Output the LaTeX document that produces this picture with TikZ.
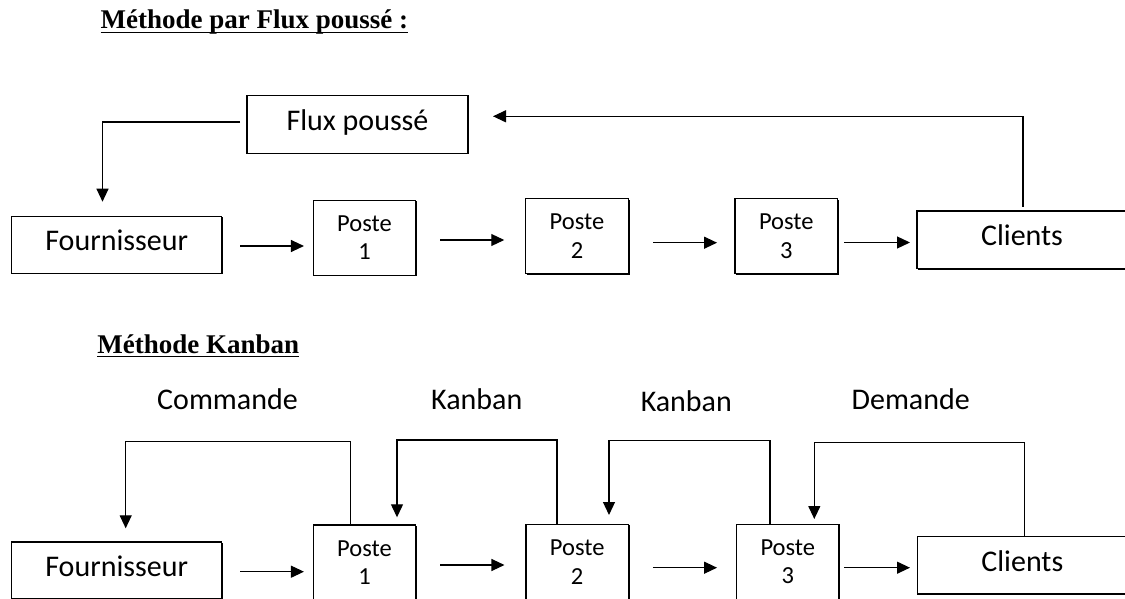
\documentclass[tikz,border=0pt]{standalone}
\usepackage{fontspec}
\setmainfont{Liberation Serif}
\newfontfamily\boxfont{Carlito}
\usetikzlibrary{arrows.meta}

\begin{document}
\begin{tikzpicture}[x=1pt,y=-1pt,
  every node/.style={inner sep=0pt, outer sep=0pt},
  shbox/.style={draw, fill=white, line width=1.2pt},
  bigbox/.style={shbox, minimum width=210pt, minimum height=57pt,
    font=\boxfont\fontsize{30}{36}\selectfont, text height=19pt, text depth=7pt},
  postbox/.style={shbox, minimum width=102.5pt, minimum height=75pt, align=center,
    font=\boxfont\fontsize{24.5}{28.4}\selectfont},
  lbl/.style={font=\boxfont\fontsize{30}{36}\selectfont, text height=19pt, text depth=7pt},
  ttl/.style={anchor=base west, font=\fontsize{27}{32}\selectfont\bfseries},
  uline/.style={line width=1.5pt},
  heavy/.style={line width=1pt},
  arr/.style={line width=1.2pt, -{Triangle[length=13pt,width=12pt]}},
  ]
\useasboundingbox (0,0) rectangle (1125,599);
\clip (0,0) rectangle (1125,599);

% ---------- push flow ----------
\node[ttl] (t1) at (100.7,29) {Méthode par Flux poussé :};
\draw[uline] ([yshift=-3.3pt]t1.base west) -- ([yshift=-3.3pt]t1.base east);

\node[bigbox, minimum width=221pt, minimum height=58pt] (flux) at (357.5,124.2) {Flux poussé};
\node[bigbox] (fa) at (116.7,244.6) {Fournisseur};
\node[postbox] (pa) at (364.5,237.6) {Poste\\1};
\node[postbox] (pb) at (577,236.3) {Poste\\2};
\node[postbox] (pc) at (786.3,236.3) {Poste\\3};
\node[bigbox, minimum height=57.3pt] (ca) at (1022,239.7) {Clients};

\draw[arr] ([xshift=-7pt,yshift=2.2pt]flux.west) -| ([xshift=-14.2pt,yshift=14.4pt]fa.north);
\draw[arr] ([xshift=1pt,yshift=4.3pt]ca.north) |- ([xshift=25pt,yshift=7.9pt]flux.east);

\draw[arr, shorten <=18.3pt, shorten >=9.3pt]
  ([yshift=-1.4pt]fa.east) -- ([yshift=-1.4pt]pa.west |- fa.east);
\draw[arr, shorten <=24.25pt, shorten >=21.5pt]
  ([yshift=-2.4pt]pa.east) -- ([yshift=-2.4pt]pb.west |- pa.east);
\draw[arr, shorten <=24.75pt, shorten >=18pt]
  ([yshift=-6.4pt]pb.east) -- ([yshift=-6.4pt]pc.west |- pb.east);
\draw[arr, shorten <=6.5pt, shorten >=7pt]
  ([yshift=-6.2pt]pc.east) -- ([yshift=-6.2pt]ca.west |- pc.east);

% ---------- Kanban ----------
\node[ttl] (t2) at (97.3,353.3) {Méthode Kanban};
\draw[uline] ([yshift=-3.3pt]t2.base west) -- ([yshift=-3.3pt]t2.base east);

\node[lbl] (lc) at (227.5,403) {Commande};
\node[lbl] (lk1) at (476.7,403) {Kanban};
\node[lbl] (lk2) at (686.3,405.7) {Kanban};
\node[lbl] (ld) at (910.7,403) {Demande};

\node[bigbox] (fb) at (116.7,570.5) {Fournisseur};
\node[postbox] (pd) at (364.5,562.5) {Poste\\1};
\node[postbox] (pe) at (577.2,562) {Poste\\2};
\node[postbox] (pf) at (787.8,562) {Poste\\3};
\node[bigbox, minimum height=57.3pt] (cb) at (1022.3,565.3) {Clients};

\draw[arr] ([xshift=-14.1pt]pd.north) -- ++(0,-83.7) -| ([xshift=9pt,yshift=13.7pt]fb.north);
\draw[arr] ([xshift=-20.2pt,yshift=1pt]pe.north) -- ++(0,-83.5) -| ([xshift=32.5pt,yshift=7.7pt]pd.north);
\draw[arr] ([xshift=-17.8pt]pf.north) -- ++(0,-83.8) -| ([xshift=31.8pt,yshift=9.5pt]pe.north);
\draw[arr] ([xshift=2pt]cb.north) -- ++(0,-94) -| ([xshift=26.5pt,yshift=5.5pt]pf.north);

\draw[arr, shorten <=18.3pt, shorten >=9.3pt]
  ([yshift=-1.2pt]fb.east) -- ([yshift=-1.2pt]pd.west |- fb.east);
\draw[arr, shorten <=24.25pt, shorten >=21.5pt]
  ([yshift=-2.5pt]pd.east) -- ([yshift=-2.5pt]pe.west |- pd.east);
\draw[arr, shorten <=24.5pt, shorten >=19.5pt]
  ([yshift=-5.7pt]pe.east) -- ([yshift=-5.7pt]pf.west |- pe.east);
\draw[arr, shorten <=5pt, shorten >=7.3pt]
  ([yshift=-5.7pt]pf.east) -- ([yshift=-5.7pt]cb.west |- pf.east);

% heavier bottom and right edges of every box
\foreach \n in {flux,fa,pa,pb,pc,ca,fb,pd,pe,pf,cb}
  \draw[heavy] ([xshift=0.8pt,yshift=-0.8pt]\n.south west)
    -| ([xshift=0.8pt,yshift=-0.8pt]\n.north east);
\end{tikzpicture}
\end{document}
